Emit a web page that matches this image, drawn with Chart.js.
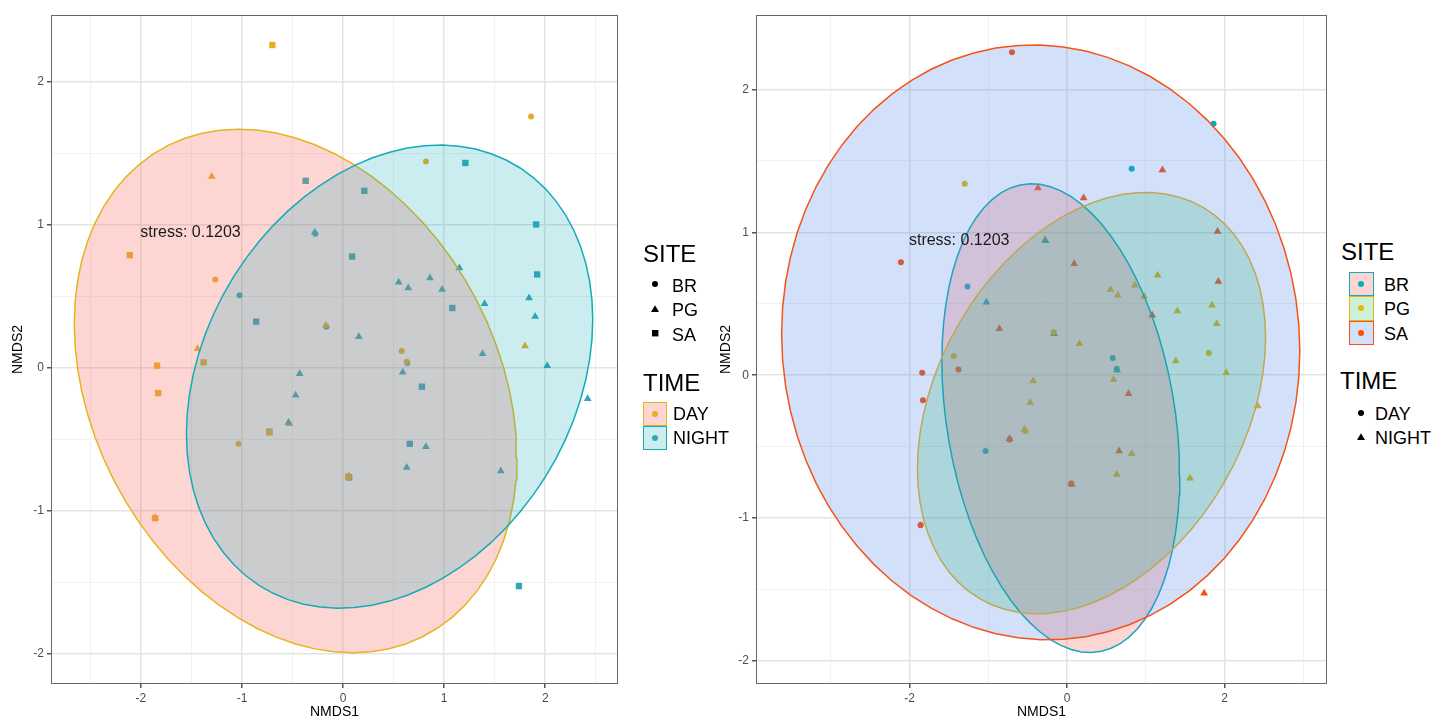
<!DOCTYPE html>
<html>
<head>
<meta charset="utf-8">
<script src="https://cdn.jsdelivr.net/npm/chart.js@4.4.1/dist/chart.umd.min.js"></script>
<style>
    body { margin: 0; background: #fff; width: 1436px; height: 721px; overflow: hidden; position: relative;
           font-family: "Liberation Sans", Arial, Helvetica, sans-serif; }
    canvas { position: absolute; top: 0; }
    #leftChart { left: 0; }
    #rightChart { left: 690px; }
    .lg { position: absolute; line-height: 1; transform: translateY(-50%); white-space: nowrap; color: #000; }
    .ttl { font-size: 24px; }
    .lab { font-size: 18px; }
    .key { position: absolute; box-sizing: border-box; border-width: 1.5px; border-style: solid; }
    .sym { position: absolute; }
</style>
</head>
<body>
<canvas id="leftChart" width="630" height="721"></canvas>
<canvas id="rightChart" width="650" height="721"></canvas>
<div id="legends"></div>
<script>
// NMDS scores, one entry per sample
const nmds1 = [-0.70, 1.86, -1.30, -0.37, 0.21, 0.82, 1.21, -2.11, -1.265, -1.025,
               -0.28, -0.275, -0.86, -0.165, -0.17, -1.44, -1.38, -1.84, -1.83, -0.43,
               -0.47, -0.53, -0.54, -0.73, -0.73, -1.035, -1.86, -1.86, 0.06, 0.055,
               0.05, 0.55, 0.645, 0.86, 0.98, 1.15, 0.09, 1.08, 1.40, 1.91,
               1.92, 1.84, 1.90, 1.80, 0.156, 0.58, 0.635, 0.63, 1.38, 0.59,
               2.02, 2.42, 0.78, 0.66, 0.82, 0.63, 1.56, 1.74];
const nmds2 = [2.26, 1.76, 1.34, 1.31, 1.24, 1.445, 1.435, 0.79, 0.62, 0.51,
               0.95, 0.94, 0.325, 0.29, 0.30, 0.135, 0.04, 0.017, -0.175, -0.04,
               -0.19, -0.39, -0.38, -0.445, -0.45, -0.53, -1.045, -1.05, -0.765, -0.755,
               -0.76, 0.60, 0.56, 0.63, 0.55, 0.70, 0.78, 0.42, 0.45, 1.005,
               0.655, 0.49, 0.36, 0.155, 0.22, 0.12, 0.035, 0.045, 0.10, -0.03,
               0.017, -0.215, -0.13, -0.53, -0.55, -0.695, -0.72, -1.525];
const site = ['SA', 'BR', 'PG', 'SA', 'SA', 'BR', 'SA', 'SA', 'BR', 'BR',
              'PG', 'BR', 'SA', 'BR', 'PG', 'PG', 'SA', 'SA', 'SA', 'PG',
              'PG', 'PG', 'PG', 'SA', 'SA', 'BR', 'PG', 'SA', 'SA', 'PG',
              'SA', 'PG', 'PG', 'PG', 'PG', 'PG', 'SA', 'SA', 'PG', 'SA',
              'SA', 'PG', 'PG', 'PG', 'PG', 'BR', 'BR', 'BR', 'PG', 'PG',
              'PG', 'PG', 'SA', 'SA', 'PG', 'PG', 'PG', 'SA'];
const time = ['DAY', 'DAY', 'DAY', 'NIGHT', 'NIGHT', 'DAY', 'NIGHT', 'DAY', 'DAY', 'NIGHT',
              'NIGHT', 'NIGHT', 'NIGHT', 'NIGHT', 'DAY', 'DAY', 'DAY', 'DAY', 'DAY', 'NIGHT',
              'NIGHT', 'DAY', 'NIGHT', 'NIGHT', 'DAY', 'DAY', 'DAY', 'DAY', 'NIGHT', 'DAY',
              'DAY', 'NIGHT', 'NIGHT', 'NIGHT', 'NIGHT', 'NIGHT', 'NIGHT', 'NIGHT', 'NIGHT', 'NIGHT',
              'NIGHT', 'NIGHT', 'NIGHT', 'DAY', 'NIGHT', 'DAY', 'NIGHT', 'DAY', 'NIGHT', 'NIGHT',
              'NIGHT', 'NIGHT', 'NIGHT', 'NIGHT', 'NIGHT', 'NIGHT', 'NIGHT', 'NIGHT'];

const sites = ['BR', 'PG', 'SA'];
const times = ['DAY', 'NIGHT'];

// ellipses: centre x, centre y, then x = cx + a*cos t, y = cy + b*cos t + c*sin t
const dayEllipse   = [-0.47, -0.16, 2.19, -0.47, 1.77];
const nightEllipse = [0.46, -0.06, 2.01, 0.40, 1.57];
const brEllipse    = [-0.08, -0.30, 1.51, -0.40, 1.59];
const pgEllipse    = [0.31, -0.195, 2.21, 0.46, 1.40];
const saEllipse    = [-0.335, 0.23, 3.29, -0.06, 2.08];

// ticks
const leftXGrid = [-2.5, -2, -1.5, -1, -0.5, 0, 0.5, 1, 1.5, 2, 2.5];
const leftXLabels = [-2, -1, 0, 1, 2];
const leftYGrid = [-2, -1.5, -1, -0.5, 0, 0.5, 1, 1.5, 2];
const leftYLabels = [-2, -1, 0, 1, 2];
const rightXGrid = [-3, -2, -1, 0, 1, 2, 3];
const rightXLabels = [-2, 0, 2];
const rightYGrid = [-2, -1.5, -1, -0.5, 0, 0.5, 1, 1.5, 2];
const rightYLabels = [-2, -1, 0, 1, 2];

const stressLabel = 'stress: 0.1203';

// colours
const lineTeal = '#12ABBA', lineGold = '#E4B520', lineRed = '#F5521A';
const timeColor = { DAY: '#E6AE22', NIGHT: '#2FA8B9' };
const siteColor = { BR: '#00AFBB', PG: '#E7B800', SA: '#FC4E07' };
const timeFill = { DAY: 'rgba(248,118,109,0.3)', NIGHT: 'rgba(0,165,178,0.2)' };
const timeLine = { DAY: lineGold, NIGHT: lineTeal };
const siteFill = { BR: 'rgba(248,118,109,0.3)', PG: 'rgba(0,186,56,0.2)', SA: 'rgba(80,130,235,0.25)' };
const siteLine = { BR: lineTeal, PG: lineGold, SA: lineRed };
const siteShape = { BR: 'circle', PG: 'triangle', SA: 'rect' };
const timeShape = { DAY: 'circle', NIGHT: 'triangle' };
const shapeRadius = { circle: 3, triangle: 4.5, rect: 4.5 };

const FONT = '"Liberation Sans", Arial, Helvetica, sans-serif';

function ellipsePoints(e) {
    const [cx, cy, a, b, c] = e;
    const pts = [];
    for (let i = 0; i <= 72; i++) {
        const t = 2 * Math.PI * i / 72;
        pts.push({ x: cx + a * Math.cos(t), y: cy + b * Math.cos(t) + c * Math.sin(t) });
    }
    return pts;
}

// border round the panel + stress text
const panelDecor = {
    id: 'panelDecor',
    afterDatasetsDraw(chart, args, opts) {
        const { ctx, chartArea: a, scales } = chart;
        ctx.save();
        ctx.font = '16px ' + FONT;
        ctx.fillStyle = '#1a1a1a';
        ctx.textAlign = 'center';
        ctx.textBaseline = 'middle';
        ctx.fillText(stressLabel, scales.x.getPixelForValue(opts.stressAt[0]), scales.y.getPixelForValue(opts.stressAt[1]));
        ctx.strokeStyle = '#666';
        ctx.lineWidth = 1;
        ctx.strokeRect(a.left + 0.5, a.top + 0.5, a.width - 1, a.height - 1);
        ctx.restore();
    }
};

function axis(min, max, grid, labels, size, title, titlePad, horizontal) {
    return {
        type: 'linear', min: min, max: max,
        afterBuildTicks: s => { s.ticks = grid.map(v => ({ value: v })); },
        afterFit: s => { if (horizontal) s.height = size; else s.width = size; },
        ticks: {
            autoSkip: false, maxRotation: 0, padding: 3, color: '#4d4d4d',
            font: { family: FONT, size: 12 },
            callback: v => labels.includes(v) ? String(v) : ''
        },
        grid: {
            color: c => labels.includes(c.tick.value) ? '#e3e3e3' : '#f1f1f1',
            lineWidth: c => labels.includes(c.tick.value) ? 1.5 : 1,
            tickColor: c => labels.includes(c.tick.value) ? '#555' : 'rgba(0,0,0,0)',
            tickLength: 4
        },
        border: { display: false },
        title: {
            display: true, text: title, color: '#000',
            font: { family: FONT, size: 14 },
            padding: horizontal ? { top: 0, bottom: 0 } : { top: titlePad, bottom: 0 }
        }
    };
}

function makePanel(id, p) {
    const pts = nmds1.map((x, i) => ({ x: x, y: nmds2[i] }));
    const shapes = pts.map((d, i) => p.shapeOf(i));
    const datasets = [{
        data: pts,
        order: 10,
        pointStyle: shapes,
        pointRadius: shapes.map(s => shapeRadius[s]),
        pointBackgroundColor: pts.map((d, i) => p.colorOf(i)),
        pointBorderWidth: 0,
        showLine: false
    }];
    p.ellipses.forEach((e, k) => {
        datasets.push({
            data: ellipsePoints(e.shape),
            showLine: true,
            fill: 'shape',
            borderColor: e.line,
            backgroundColor: e.fill,
            borderWidth: 1.5,
            pointRadius: 0,
            tension: 0,
            order: p.ellipses.length - k
        });
    });
    return new Chart(document.getElementById(id).getContext('2d'), {
        type: 'scatter',
        data: { datasets: datasets },
        options: {
            responsive: false,
            animation: false,
            events: [],
            layout: { padding: { left: 0, right: p.padRight, top: 15, bottom: 0 } },
            scales: {
                x: axis(p.x[0], p.x[1], p.xGrid, p.xLabels, 37, 'NMDS1', 0, true),
                y: axis(p.y[0], p.y[1], p.yGrid, p.yLabels, p.yWidth, 'NMDS2', p.yTitlePad, false)
            },
            plugins: {
                legend: { display: false },
                tooltip: { enabled: false },
                panelDecor: { stressAt: p.stressAt }
            }
        },
        plugins: [panelDecor]
    });
}

// Left panel: colour = TIME, shape = SITE
makePanel('leftChart', {
    x: [-2.89, 2.72], y: [-2.21, 2.47],
    xGrid: leftXGrid, xLabels: leftXLabels, yGrid: leftYGrid, yLabels: leftYLabels,
    yWidth: 51, yTitlePad: 9.6, padRight: 12,
    stressAt: [-1.51, 0.95],
    shapeOf: i => siteShape[site[i]],
    colorOf: i => timeColor[time[i]],
    ellipses: [
        { shape: dayEllipse, line: timeLine.DAY, fill: timeFill.DAY },
        { shape: nightEllipse, line: timeLine.NIGHT, fill: timeFill.NIGHT }
    ]
});

// Right panel: colour = SITE, shape = TIME
makePanel('rightChart', {
    x: [-3.95, 3.30], y: [-2.16, 2.52],
    xGrid: rightXGrid, xLabels: rightXLabels, yGrid: rightYGrid, yLabels: rightYLabels,
    yWidth: 66, yTitlePad: 27.6, padRight: 13,
    stressAt: [-1.37, 0.94],
    shapeOf: i => timeShape[time[i]],
    colorOf: i => siteColor[site[i]],
    ellipses: [
        { shape: brEllipse, line: siteLine.BR, fill: siteFill.BR },
        { shape: pgEllipse, line: siteLine.PG, fill: siteFill.PG },
        { shape: saEllipse, line: siteLine.SA, fill: siteFill.SA }
    ]
});

// Legends
const lg = document.getElementById('legends');
function addText(text, cls, left, cy) {
    const d = document.createElement('div');
    d.className = 'lg ' + cls;
    d.textContent = text;
    d.style.left = left + 'px';
    d.style.top = cy + 'px';
    lg.appendChild(d);
}
function shapeSvg(shape, color) {
    if (shape === 'circle') return '<svg width="10" height="10"><circle cx="5" cy="5" r="3" fill="' + color + '"/></svg>';
    if (shape === 'triangle') return '<svg width="10" height="10"><polygon points="5,1.2 9,8 1,8" fill="' + color + '"/></svg>';
    return '<svg width="10" height="10"><rect x="2" y="2" width="6.4" height="6.4" fill="' + color + '"/></svg>';
}
function addSymbol(shape, color, cx, cy) {
    const d = document.createElement('div');
    d.className = 'sym';
    d.innerHTML = shapeSvg(shape, color);
    d.style.left = (cx - 5) + 'px';
    d.style.top = (cy - 5) + 'px';
    d.style.lineHeight = '0';
    lg.appendChild(d);
}
function addKey(fill, line, left, top, size) {
    const d = document.createElement('div');
    d.className = 'key';
    d.style.left = left + 'px';
    d.style.top = top + 'px';
    d.style.width = size + 'px';
    d.style.height = size + 'px';
    d.style.background = fill;
    d.style.borderColor = line;
    lg.appendChild(d);
}

// left legend
addText('SITE', 'ttl', 643, 254);
sites.forEach((s, i) => {
    addSymbol(siteShape[s], '#000', 655, 284 + 24.5 * i);
    addText(s, 'lab', 672, 285.5 + 24.5 * i);
});
addText('TIME', 'ttl', 643, 383);
times.forEach((t, i) => {
    addKey(timeFill[t], timeLine[t], 643, 401.5 + 24 * i, 24);
    addSymbol('circle', timeColor[t], 655, 413.5 + 24 * i);
    addText(t, 'lab', 673, 413.5 + 24 * i);
});

// right legend
addText('SITE', 'ttl', 1341, 252);
sites.forEach((s, i) => {
    addKey(siteFill[s], siteLine[s], 1349, 271.5 + 24.5 * i, 24.5);
    addSymbol('circle', siteColor[s], 1361, 283.8 + 24.5 * i);
    addText(s, 'lab', 1384, 284.5 + 24.5 * i);
});
addText('TIME', 'ttl', 1340, 381);
times.forEach((t, i) => {
    addSymbol(timeShape[t], '#000', 1361, 412.5 + 24 * i);
    addText(t, 'lab', 1375, 413.5 + 24 * i);
});
</script>
</body>
</html>
